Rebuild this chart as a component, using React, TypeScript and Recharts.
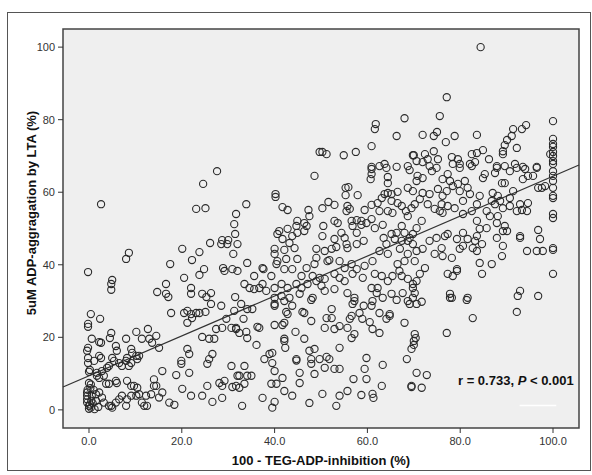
import React from 'react';
import { ScatterChart, Scatter, XAxis, YAxis, ReferenceArea, ReferenceLine } from 'recharts';

type Pt = [number, number];

// TEG value (x) vs LTA aggregation (y)
const upperBand: Pt[] = [
  [27.6, 65.8], [68.0, 80.4], [61.8, 78.8], [61.6, 77.4], [66.3, 75.5], [60.9, 72.7], [49.7, 71.1], [50.3, 71.1],
  [51.2, 70.5], [54.9, 70.2], [57.5, 71.1], [69.8, 70.2], [60.9, 67.0], [62.6, 67.2], [63.7, 67.8], [66.3, 67.0],
  [68.7, 67.2], [84.4, 100.0], [77.1, 86.2], [75.6, 81.0], [100, 79.6], [94.2, 78.5], [93.3, 77.4], [91.4, 77.4],
  [91.1, 75.5], [90.1, 74.4], [89.6, 73.0], [89.2, 71.3], [89.2, 70.5], [92.2, 72.2], [71.9, 75.8], [74.3, 75.5],
  [75.0, 76.6], [78.8, 75.5], [76.9, 73.8], [83.6, 75.8], [100, 74.7], [100, 73.3], [100, 72.5], [100, 71.1],
  [100, 70.0], [100, 68.6], [100, 67.8], [99.4, 70.5], [74.3, 71.3], [70.0, 70.2], [72.4, 70.5], [70.6, 68.6],
  [71.9, 68.3], [73.0, 69.1], [75.2, 69.1], [78.2, 69.7], [79.5, 69.1], [78.4, 67.8], [79.9, 67.8], [82.5, 70.5],
  [83.6, 70.8], [82.1, 67.8], [83.2, 68.3], [84.9, 71.6], [86.2, 69.1], [87.9, 67.2], [89.6, 67.2], [91.8, 67.8],
  [93.5, 67.0], [96.5, 67.0],
];

const leftMiddle: Pt[] = [
  [24.6, 62.3], [2.6, 56.7], [23.1, 55.4], [25.1, 55.6], [31.7, 54.0], [31.3, 51.2], [31.5, 48.5], [32.0, 45.7],
  [26.1, 46.0], [28.7, 46.8], [30.0, 46.8], [28.5, 45.7], [29.8, 45.7], [31.1, 43.0], [20.1, 44.4], [23.8, 43.5],
  [22.2, 41.3], [8.6, 43.3], [8.0, 41.6], [-0.2, 38.0], [17.5, 40.2], [24.8, 38.8], [23.8, 37.2], [28.9, 39.1],
  [29.2, 38.3], [30.9, 38.8], [20.5, 36.4], [5.0, 35.8], [4.8, 34.7], [4.8, 33.1], [16.6, 34.7], [14.7, 32.5],
  [16.6, 32.0], [17.1, 31.1], [22.0, 33.6], [22.0, 32.0], [24.4, 32.0], [25.3, 31.1], [26.3, 32.2], [31.5, 31.1],
];

const centerMiddle: Pt[] = [
  [48.6, 64.5], [60.9, 66.4], [60.9, 65.0], [60.7, 63.6], [64.1, 66.7], [69.1, 66.1], [64.4, 64.2], [64.4, 62.5],
  [68.7, 61.2], [69.8, 60.3], [66.5, 60.1], [65.2, 59.5], [63.7, 59.5], [55.3, 61.2], [55.9, 61.4], [55.3, 59.2],
  [57.9, 59.2], [40.2, 59.5], [40.2, 58.7], [33.9, 56.7], [41.7, 55.9], [42.8, 55.1], [47.3, 55.1], [47.5, 53.4],
  [50.3, 55.6], [51.6, 57.3], [52.9, 56.5], [55.7, 56.2], [56.2, 55.4], [55.5, 54.8], [59.4, 55.1], [60.9, 56.5],
  [62.2, 57.0], [63.1, 58.4], [64.4, 59.8], [65.2, 57.6], [66.5, 57.0], [67.4, 56.2], [62.6, 54.8], [64.4, 54.8],
  [65.4, 54.3], [68.3, 54.8], [69.5, 55.6], [68.7, 53.4], [44.9, 52.1], [46.4, 51.5], [44.7, 50.7], [46.9, 50.7],
  [52.9, 52.1], [53.6, 51.5], [56.6, 52.1], [57.7, 52.3], [58.7, 52.1], [60.9, 52.6], [59.8, 51.5], [50.5, 50.7],
  [56.8, 50.7], [58.7, 51.0], [61.6, 50.1], [63.3, 51.0], [67.4, 50.7], [41.0, 49.3], [42.8, 49.9], [44.9, 48.8],
  [46.4, 49.3], [40.6, 48.5], [54.4, 48.8], [55.1, 47.4], [55.5, 45.7], [55.7, 44.6], [57.7, 48.8], [59.2, 46.6],
  [57.7, 45.7], [63.5, 47.4], [65.2, 48.5], [66.3, 48.8], [68.0, 48.8], [69.1, 47.4], [68.7, 46.6], [69.8, 45.7],
  [67.4, 46.6], [65.9, 47.1], [64.1, 45.7], [41.7, 47.1], [43.2, 46.0], [43.8, 47.9], [40.0, 44.4], [42.1, 44.1],
  [44.3, 44.6], [49.0, 44.4], [49.0, 41.9], [50.8, 43.8], [52.3, 44.4], [53.3, 44.9], [52.9, 47.1], [50.3, 47.9],
  [62.6, 43.8], [64.4, 43.0], [67.0, 44.4], [68.7, 43.0], [70.2, 41.0], [68.0, 41.0], [66.5, 40.2], [40.0, 43.0],
  [40.6, 41.0], [40.4, 40.2], [42.5, 41.6], [44.9, 41.6], [46.9, 39.1], [48.6, 40.2], [51.4, 41.0], [51.8, 41.3],
  [54.0, 41.0], [55.1, 39.1], [56.6, 40.2], [57.7, 38.8], [59.4, 39.7], [61.1, 41.0], [34.1, 40.5], [32.0, 38.3],
  [35.6, 36.9], [37.4, 39.1], [37.6, 38.8], [39.3, 36.9], [42.1, 38.8], [43.8, 38.8], [45.8, 36.9], [48.2, 36.9],
  [49.7, 36.4], [50.8, 36.1], [52.9, 37.5], [54.0, 36.4], [55.1, 35.5], [56.8, 37.5], [59.0, 36.4], [61.6, 37.5],
  [63.1, 36.9], [64.4, 35.5], [65.4, 36.9], [66.9, 38.3], [67.4, 36.9], [68.7, 36.1], [69.8, 34.7], [33.5, 34.7],
  [34.6, 33.6], [35.6, 33.3], [36.7, 33.6], [37.4, 34.7], [38.2, 32.8], [40.0, 33.6], [41.5, 34.7], [42.8, 33.6],
  [44.7, 34.7], [45.8, 33.6], [47.1, 34.7], [49.0, 35.5], [50.1, 34.2], [50.8, 32.8], [52.9, 33.3], [55.7, 32.2],
  [57.2, 30.9], [60.9, 33.6], [62.2, 33.6], [62.0, 32.2], [63.3, 30.9], [65.2, 32.0], [67.6, 32.2], [69.8, 30.9],
  [40.0, 30.9], [41.5, 31.4], [43.2, 30.9], [45.4, 32.0], [48.2, 30.9],
];

const rightMiddle: Pt[] = [
  [100, 65.8], [100, 64.5], [100, 63.1], [100, 61.2], [100, 59.0], [100, 58.4], [100, 54.0], [100, 52.9],
  [100, 44.6], [100, 44.1], [100, 37.5], [96.5, 66.7], [94.0, 66.4], [94.6, 64.5], [93.5, 63.6], [95.7, 64.5],
  [92.2, 66.7], [90.7, 65.8], [97.6, 61.2], [96.8, 61.2], [98.3, 61.7], [91.4, 60.3], [89.6, 62.5], [89.0, 62.5],
  [90.7, 58.4], [88.1, 59.0], [87.0, 59.8], [86.8, 57.6], [84.9, 63.9], [85.3, 65.0], [87.5, 65.3], [87.9, 66.7],
  [92.2, 54.8], [93.3, 55.1], [94.4, 54.8], [92.9, 56.7], [94.6, 57.0], [92.9, 47.9], [92.9, 47.4], [96.8, 49.6],
  [97.2, 47.1], [96.5, 43.8], [97.8, 43.8], [94.4, 43.8], [87.5, 56.7], [88.6, 57.6], [89.2, 55.6], [90.7, 56.2],
  [85.7, 54.8], [86.4, 53.4], [88.1, 53.4], [87.9, 51.5], [89.6, 50.7], [89.2, 49.3], [90.1, 49.3], [85.7, 50.1],
  [84.2, 49.9], [83.6, 52.1], [82.5, 54.8], [80.6, 54.0], [83.6, 56.7], [84.2, 59.0], [82.1, 59.5], [80.6, 57.6],
  [81.6, 61.2], [79.9, 60.3], [79.5, 62.3], [81.0, 63.1], [77.8, 63.1], [78.4, 61.7], [77.1, 60.3], [76.2, 59.0],
  [75.2, 60.9], [76.0, 56.7], [77.3, 56.2], [76.2, 54.3], [78.8, 55.6], [79.9, 66.7], [82.5, 67.2], [77.3, 65.0],
  [76.2, 63.6], [74.9, 66.7], [73.4, 67.2], [73.9, 65.8], [71.9, 63.9], [70.8, 64.5], [70.6, 63.1], [71.9, 59.8],
  [73.4, 59.5], [71.3, 58.1], [70.2, 56.7], [73.0, 56.7], [74.5, 55.4], [75.6, 54.8], [70.6, 50.1], [69.8, 48.5],
  [71.7, 52.1], [73.4, 46.6], [74.9, 47.4], [76.7, 47.9], [77.3, 48.5], [79.3, 47.1], [80.6, 48.8], [81.6, 47.1],
  [83.2, 46.6], [83.6, 47.9], [70.6, 43.8], [71.9, 44.4], [74.5, 43.0], [76.0, 44.6], [76.2, 42.4], [78.2, 41.9],
  [79.9, 44.4], [80.6, 45.2], [82.7, 44.6], [83.6, 43.8], [84.7, 45.7], [89.2, 45.2], [89.0, 42.4], [87.9, 47.4],
  [86.8, 40.2], [84.2, 40.5], [84.7, 37.5], [72.4, 39.1], [71.3, 37.5], [70.6, 35.5], [69.8, 33.6], [70.2, 32.2],
  [77.3, 37.5], [79.3, 38.8], [78.4, 36.9], [79.3, 38.3], [77.8, 32.0], [78.2, 30.9], [81.6, 30.9], [92.9, 32.8],
  [92.4, 31.4], [96.8, 31.4],
];

const lowerLeft: Pt[] = [
  [0.4, 26.4], [2.4, 25.1], [-0.2, 23.7], [-0.2, 22.9], [0.6, 19.6], [-0.2, 17.1], [2.2, 18.7], [2.6, 18.5],
  [-0.4, 16.3], [-0.2, 14.3], [1.1, 13.5], [-0.2, 12.9], [2.2, 14.9], [2.6, 14.3], [4.8, 21.2], [4.5, 19.8],
  [5.8, 17.6], [6.0, 16.3], [5.0, 14.3], [5.4, 13.5], [6.5, 12.9], [4.3, 12.1], [3.9, 11.6], [2.8, 10.7],
  [1.7, 10.2], [8.0, 19.6], [10.2, 21.5], [12.7, 22.3], [13.0, 19.6], [11.4, 19.6], [14.5, 20.4], [13.6, 18.5],
  [15.1, 17.1], [9.1, 16.8], [9.3, 15.7], [8.2, 14.3], [8.0, 13.5], [10.2, 14.9], [10.8, 14.9], [10.4, 14.0],
  [9.1, 12.9], [7.1, 12.1], [8.6, 12.1], [0, 7.4], [0.4, 7.0], [1.7, 9.4], [2.2, 8.8], [3.2, 9.4], [3.7, 7.2],
  [4.3, 7.2], [5.8, 8.0], [6.0, 7.4], [8.2, 8.0], [9.1, 6.6], [9.7, 6.6], [10.4, 6.1], [17.7, 26.7], [20.5, 26.7],
  [21.2, 27.3], [22.0, 26.4], [22.2, 25.3], [21.2, 24.0], [23.1, 26.7], [23.8, 26.7], [25.1, 27.0], [26.3, 29.2],
  [28.5, 28.7], [31.3, 27.3], [29.6, 25.1], [27.4, 22.3], [28.7, 22.6], [30.7, 22.6], [31.7, 22.3], [24.4, 20.1],
  [25.9, 19.6], [27.0, 19.6], [21.2, 16.8], [21.6, 15.4], [19.9, 13.5], [19.9, 12.7], [25.5, 12.7], [25.9, 14.0],
  [26.6, 15.4], [30.7, 12.1], [32.0, 9.4], [18.8, 9.6], [21.6, 10.2], [25.5, 6.6], [28.1, 7.4], [28.7, 6.6],
  [29.2, 8.0], [30.9, 6.3], [20.1, 5.8], [22.0, 3.9], [24.4, 3.9], [26.6, 2.2], [28.7, 3.3],
];

const nearZero: Pt[] = [
  [-0.4, 4.8], [-0.4, 3.9], [-0.4, 2.9], [-0.4, 2.0], [0, 1.1], [0.4, 0.6], [0.6, 3.9], [1.5, 4.3], [2.2, 4.8],
  [2.8, 3.4], [3.2, 2.0], [4.3, 1.1], [5.0, 0.6], [4.8, 1.1], [5.8, 2.0], [6.5, 2.9], [7.1, 3.9], [8.0, 1.1],
  [8.2, 2.9], [9.1, 3.9], [10.2, 3.9], [10.8, 4.3], [11.4, 2.0], [11.9, 1.1], [12.5, 1.1], [12.3, 3.9],
  [13.4, 4.3], [14.0, 6.6], [14.0, 8.4], [14.5, 6.6], [15.8, 10.7], [15.8, 4.8], [15.1, 3.4], [17.3, 2.0],
  [18.4, 1.4], [0, 0.3], [0.2, 1.5], [0.5, 2.5], [-0.3, 5.5], [0.3, 6.0], [0, 10.5], [0.2, 11.0], [1.0, 5.5],
  [1.5, 2.5], [2.0, 0.8], [1.2, 0.2], [0.8, 1.8],
];

const lowerMiddle: Pt[] = [
  [32.8, 29.2], [34.1, 27.8], [35.2, 27.8], [33.3, 25.1], [31.7, 22.6], [32.4, 21.2], [33.9, 21.5], [34.1, 19.8],
  [36.1, 17.9], [36.3, 22.9], [36.7, 22.6], [40.0, 29.2], [40.0, 28.7], [42.1, 30.0], [43.8, 28.7], [42.8, 26.4],
  [42.5, 27.0], [46.0, 27.0], [46.4, 26.7], [47.9, 30.3], [40.0, 23.4], [41.7, 23.4], [42.1, 24.0], [42.1, 19.6],
  [42.1, 19.0], [42.3, 17.1], [44.5, 21.5], [46.4, 19.6], [47.9, 24.5], [33.5, 12.1], [34.1, 9.4], [35.0, 9.4],
  [32.4, 9.4], [31.7, 6.6], [32.4, 6.1], [33.5, 7.2], [37.8, 14.0], [38.9, 15.4], [39.5, 15.7], [39.5, 12.9],
  [40.0, 10.7], [41.7, 8.8], [39.3, 7.2], [40.4, 7.2], [42.1, 5.2], [43.8, 3.9], [37.4, 3.3], [40.0, 2.2],
  [39.5, 0.6], [33.0, 1.1], [44.7, 14.0], [44.7, 13.6], [45.4, 10.2], [45.4, 7.4], [47.5, 16.3], [48.6, 16.8],
  [47.9, 14.0], [47.9, 12.7], [48.6, 9.9], [49.7, 14.0], [51.2, 14.6], [51.8, 14.0], [50.8, 11.6], [52.9, 11.3],
  [54.0, 11.3], [54.0, 17.1], [47.5, 1.9], [50.3, 4.4], [53.3, 1.1], [54.0, 3.9], [55.7, 5.2], [57.0, 8.5],
  [58.7, 4.1], [59.8, 8.5], [59.4, 11.3], [59.8, 14.3], [61.1, 4.4], [61.3, 3.3], [63.1, 6.6], [63.3, 12.4],
  [50.8, 22.6], [51.2, 25.3], [52.3, 25.3], [52.3, 27.8], [52.9, 22.3], [54.0, 23.1], [55.7, 22.6], [56.2, 25.1],
  [56.6, 25.9], [56.6, 19.8], [57.2, 20.9], [56.8, 29.2], [57.2, 30.0], [58.3, 26.7], [58.9, 25.1], [59.2, 28.7],
  [60.5, 24.2], [60.9, 28.7], [61.1, 22.3], [61.1, 30.0], [62.6, 26.7], [62.6, 21.2], [64.1, 25.1], [64.8, 25.9],
  [64.8, 26.4], [66.3, 30.3], [68.0, 24.0], [68.7, 30.0], [69.1, 29.2], [69.5, 16.8], [69.5, 6.6], [68.5, 14.0],
];

const lowerRight: Pt[] = [
  [70.6, 29.2], [71.7, 29.8], [77.8, 30.9], [81.4, 30.3], [82.7, 25.3], [77.1, 21.2], [92.2, 27.0], [70.4, 19.8],
  [70.0, 19.0], [70.0, 17.9], [70.2, 20.9], [72.8, 9.6], [70.6, 10.2], [69.5, 6.3], [71.7, 6.1],
];

// fitted line ends at the plot edges, as drawn
const fitLine = [{ x: -5.6, y: 6.3 }, { x: 105.6, y: 67.5 }];

const xTicks = [0, 20, 40, 60, 80, 100];
const yTicks = [0, 20, 40, 60, 80, 100];

const points = [
  ...upperBand, ...leftMiddle, ...centerMiddle, ...rightMiddle,
  ...lowerLeft, ...nearZero, ...lowerMiddle, ...lowerRight,
].map(([x, y]) => ({ x, y }));

const FONT = '"Liberation Sans", Arial, sans-serif';

const OpenDot = (props: any) => (
  <circle cx={props.cx} cy={props.cy} r={3.6} fill="none" stroke="#2a2a2a" strokeWidth={1.1} />
);

export default function App() {
  return (
    <div style={{ position: 'absolute', left: 0, top: 0, width: 592, height: 475, background: '#fff', fontFamily: FONT }}>
      <div style={{ position: 'absolute', left: 7, top: 12, width: 582, height: 457, border: '1px solid #555' }} />
      <ScatterChart width={592} height={475} margin={{ top: 29, right: 13, bottom: 0, left: 0 }}>
        <XAxis
          type="number"
          dataKey="x"
          domain={[-5.6, 105.6]}
          ticks={xTicks}
          tickFormatter={(v: number) => v.toFixed(1)}
          height={47}
          axisLine={false}
          tickLine={{ stroke: '#333' }}
          tickSize={5}
          tickMargin={4}
          tick={{ fill: '#333', fontSize: 11, fontFamily: FONT }}
          allowDataOverflow
        />
        <YAxis
          type="number"
          dataKey="y"
          domain={[-5, 105]}
          ticks={yTicks}
          width={63}
          axisLine={false}
          tickLine={{ stroke: '#333' }}
          tickSize={5}
          tickMargin={3}
          tick={{ fill: '#333', fontSize: 11, fontFamily: FONT }}
          allowDataOverflow
        />
        <ReferenceArea x1={-5.6} x2={105.6} y1={-5} y2={105} fill="#efefef" fillOpacity={1} stroke="#444" strokeWidth={1.5} />
        <ReferenceLine segment={fitLine} stroke="#333" strokeWidth={1.2} />
        <ReferenceLine segment={[{ x: 92.8, y: 1.2 }, { x: 100.7, y: 1.2 }]} stroke="#fff" strokeWidth={1.5} />
        <Scatter data={points} shape={OpenDot} isAnimationActive={false} />
      </ScatterChart>
      <div style={{ position: 'absolute', left: 121, width: 400, top: 453, textAlign: 'center', fontSize: 13, fontWeight: 'bold', color: '#111' }}>
        100 - TEG-ADP-inhibition (%)
      </div>
      <div style={{ position: 'absolute', left: 32 - 130, width: 260, top: 213 - 8, textAlign: 'center', fontSize: 13, fontWeight: 'bold', color: '#111', transform: 'rotate(-90deg)', lineHeight: '16px' }}>
        5uM ADP-aggragation by LTA (%)
      </div>
      <div style={{ position: 'absolute', left: 458, top: 373, fontSize: 13, fontWeight: 'bold', color: '#111', lineHeight: '16px', whiteSpace: 'nowrap' }}>
        r = 0.733, <i>P</i> &lt; 0.001
      </div>
    </div>
  );
}
